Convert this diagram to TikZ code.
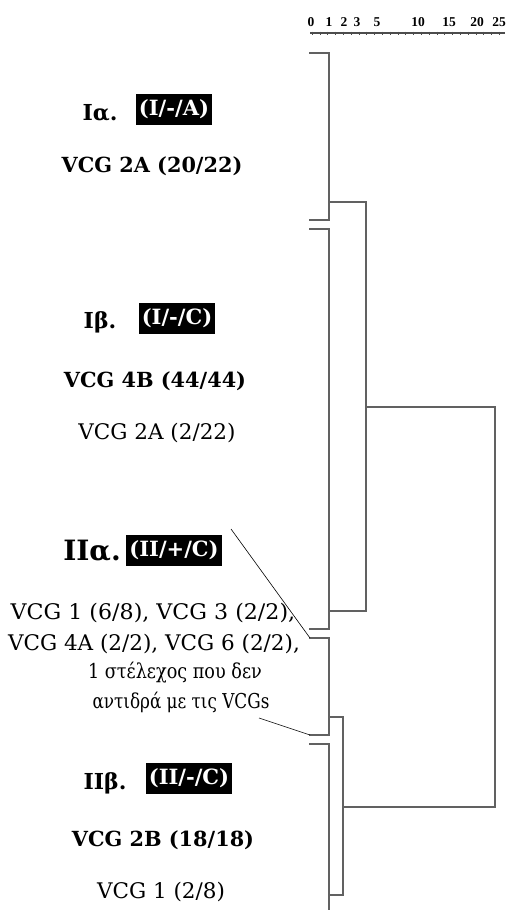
\documentclass[tikz,border=0pt]{standalone}
\usepackage{fontspec}
\setmainfont{DejaVu Serif}
\newfontfamily\scalefnt{Liberation Serif}
\newfontfamily\wideA[FakeStretch=1.03]{DejaVu Serif}
\newfontfamily\narrowA[FakeStretch=0.86]{DejaVu Serif}
\newfontfamily\narrowB[FakeStretch=0.82]{DejaVu Serif}
\begin{document}
\begin{tikzpicture}[x=1pt,y=-1pt]
\tikzset{
 dend/.style={draw=black!62, line width=2pt, line join=miter, line cap=rect},
 lead/.style={draw=black, line width=0.6pt},
 head/.style={font=\bfseries\fontsize{22}{24}\selectfont, inner sep=0pt},
 bighead/.style={font=\bfseries\fontsize{28}{30}\selectfont, inner sep=0pt},
 tag/.style={fill=black, text=white, font=\bfseries\fontsize{21}{22}\selectfont, inner xsep=3pt, inner ysep=0pt, minimum height=31pt},
 bvcg/.style={font=\bfseries\fontsize{20.8}{22}\selectfont, inner sep=0pt},
 rvcg/.style={font=\fontsize{21.5}{23}\selectfont, inner sep=0pt},
 scl/.style={font=\scalefnt\bfseries\fontsize{13.5}{14}\selectfont, inner sep=0pt}
}
\useasboundingbox (0,0) rectangle (507,910);
% scale
\foreach \v/\x in {0/311,1/329,2/344,3/357,5/377,10/418,15/449,20/477,25/499}
  \node[scl] (s\v) at (\x,22.5) {\v};
\coordinate (sL) at (310,33);
\coordinate (sR) at (505,33);
\draw[black!70, line width=1.4pt] (sL) -- (sR);
\foreach \i in {0,...,24}
  \draw[black!70, line width=0.6pt] (312+7.8*\i,31.5) -- (312+7.8*\i,34.5);
% dendrogram coordinates
\coordinate (a1) at (310,53);   \coordinate (a2) at (310,220);
\coordinate (aj) at (329,202);
\coordinate (b1) at (310,229);  \coordinate (b2) at (310,629);
\coordinate (bj) at (329,611);
\coordinate (ab) at (366,407);
\coordinate (c1) at (310,638);  \coordinate (c2) at (310,735);
\coordinate (cj) at (329,717);
\coordinate (d1) at (310,744);  \coordinate (d2) at (329,910);
\coordinate (dj) at (329,895);
\coordinate (cd) at (343,807);
\coordinate (top) at (495,407); \coordinate (bot) at (495,807);
% dendrogram
\draw[dend] (a1) -| (329,220) -- (a2);
\draw[dend] (b1) -| (329,629) -- (b2);
\draw[dend] (aj) -| (366,611) -- (bj);
\draw[dend] (c1) -| (329,735) -- (c2);
\draw[dend] (d1) -| (d2);
\draw[dend] (cj) -| (343,895) -- (dj);
\draw[dend] (ab) -- (top) -- (bot) -- (cd);
% labels
\node[head] (h1) at (100,113) {Iα.};
\node[tag] (t1) at (174,109) {(I/-/A)};
\node[bvcg] (v1) at (152,166) {VCG 2A (20/22)};
\node[head] (h2) at (100,322) {Iβ.};
\node[tag] (t2) at (177,318) {(I/-/C)};
\node[bvcg] (v2) at (155,381) {VCG 4B (44/44)};
\node[rvcg] (v3) at (157,433) {VCG 2A (2/22)};
\node[bighead] (h3) at (92,551) {IIα.};
\node[tag] (t3) at (174,550) {(II/+/C)};
\node[rvcg, font=\wideA\fontsize{21.5}{23}\selectfont] (g1) at (153,613) {VCG 1 (6/8), VCG 3 (2/2),};
\node[rvcg] (g2) at (154,644) {VCG 4A (2/2), VCG 6 (2/2),};
\node[rvcg, font=\narrowA\fontsize{20.5}{22}\selectfont] (g3) at (175,673) {1 στέλεχος που δεν};
\node[rvcg, font=\narrowB\fontsize{20.5}{22}\selectfont] (g4) at (181,702) {αντιδρά με τις VCGs};
\node[head] (h4) at (105,783) {IIβ.};
\node[tag] (t4) at (189,778) {(II/-/C)};
\node[bvcg] (v4) at (163,840) {VCG 2B (18/18)};
\node[rvcg] (v5) at (161,892) {VCG 1 (2/8)};
% leader lines
\coordinate (l1) at (231,529);
\coordinate (l2) at (259,718);
\draw[lead] (l1) -- (c1);
\draw[lead] (l2) -- (c2);
\end{tikzpicture}
\end{document}
